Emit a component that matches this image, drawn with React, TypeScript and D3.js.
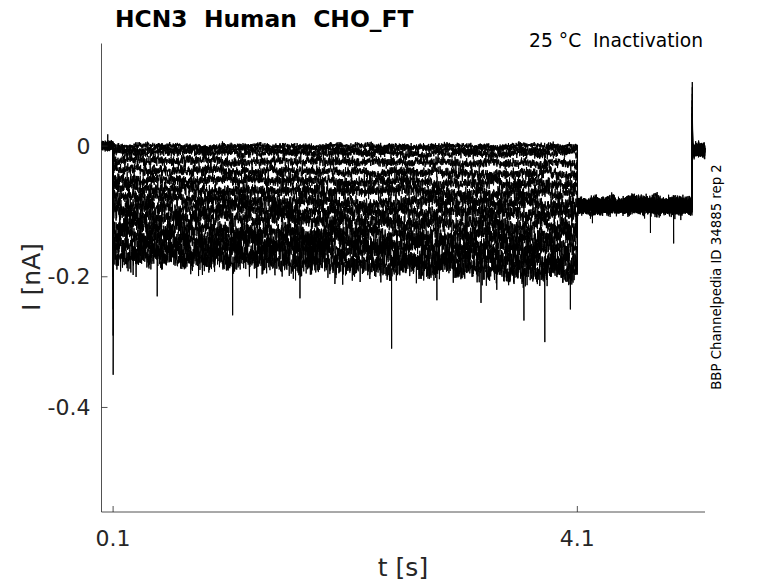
import React, { useMemo } from "react";
import * as d3 from "d3";

// ---- text ----
const title = "HCN3  Human  CHO_FT";
const subtitle = "25 °C  Inactivation";
const sideNote = "BBP Channelpedia ID 34885 rep 2";
const xLabel = "t [s]";
const yLabel = "I [nA]";

// ---- axes ----
const xDomain = [0, 5.2];
const yDomain = [-0.56, 0.157];
const xTicks = [0.1, 4.1];
const xTickLabels = ["0.1", "4.1"];
const yTicks = [0, -0.2, -0.4];
const yTickLabels = ["0", "-0.2", "-0.4"];

// ---- protocol (s) ----
const onsetTime = 0.1;
const stepTime = 4.1;
const endTime = 5.09;

// ---- per-sweep values (nA) ----
const pulseStart = [0.0, -0.004, -0.010, -0.022, -0.036, -0.050, -0.064, -0.079, -0.093, -0.107, -0.123, -0.138, -0.152, -0.166];
const pulseEnd = [0.0, -0.005, -0.012, -0.027, -0.043, -0.058, -0.074, -0.090, -0.105, -0.121, -0.140, -0.158, -0.176, -0.194];
const pulseNoise = [0.0018, 0.0022, 0.0026, 0.003, 0.0033, 0.0036, 0.004, 0.0043, 0.0047, 0.0052, 0.0057, 0.0062, 0.0067, 0.0072];
const tailLevels = [-0.084, -0.086, -0.087, -0.088, -0.089, -0.090, -0.091, -0.092, -0.092, -0.093, -0.094, -0.095, -0.096, -0.097];
const onsetPeaks = [-0.02, -0.04, -0.06, -0.08, -0.10, -0.12, -0.14, -0.16, -0.18, -0.2, -0.22, -0.25, -0.29, -0.35];
const endPeaks = [0.02, 0.03, 0.03, 0.04, 0.04, 0.05, 0.05, 0.06, 0.06, 0.07, 0.07, 0.08, 0.09, 0.098];

// notable spikes: time (s), value (nA), sweep index
const spikeTimes = [0.054, 0.48, 1.13, 1.71, 2.5, 2.89, 3.27, 3.64, 3.82, 4.04, 4.23, 4.73, 4.93];
const spikeValues = [0.018, -0.23, -0.259, -0.233, -0.31, -0.236, -0.24, -0.267, -0.30, -0.25, -0.118, -0.133, -0.149];
const spikeSweeps = [13, 13, 13, 12, 13, 12, 13, 13, 13, 12, 13, 12, 13];

// deterministic texture generator for the recording noise
function mulberry32(a: number) {
  return function () {
    a |= 0;
    a = (a + 0x6d2b79f5) | 0;
    let t = Math.imul(a ^ (a >>> 15), 1 | a);
    t = (t + Math.imul(t ^ (t >>> 7), 61 | t)) ^ t;
    return ((t ^ (t >>> 14)) >>> 0) / 4294967296;
  };
}

function buildSweep(i: number): [number, number][] {
  const rnd = mulberry32(1234 + i * 7919);
  const gauss = () => {
    const u = Math.max(1e-9, rnd());
    const v = rnd();
    return Math.sqrt(-2 * Math.log(u)) * Math.cos(2 * Math.PI * v);
  };
  const pts: [number, number][] = [];
  const n = pulseNoise[i];
  const depth = i / (pulseStart.length - 1);
  let slow = 0;
  let burst = 0;
  // pre-pulse holding
  for (let t = 0.0; t < onsetTime; t += 0.0015) pts.push([t, gauss() * 0.003]);
  pts.push([onsetTime, 0]);
  pts.push([onsetTime + 0.0005, onsetPeaks[i]]);
  // test pulse
  for (let t = onsetTime + 0.003; t < stepTime; t += 0.0015) {
    const f = (t - onsetTime) / (stepTime - onsetTime);
    const base = pulseStart[i] + (pulseEnd[i] - pulseStart[i]) * f;
    slow = slow * 0.97 + gauss() * n * 0.15;
    if (rnd() < 0.012 * depth * depth) burst = -(0.006 + rnd() * 0.02) * depth;
    burst *= 0.6;
    const v = base + slow + burst + gauss() * n * 1.2;
    pts.push([t, v]);
  }
  pts.push([stepTime, pulseEnd[i]]);
  // tail
  slow = 0;
  burst = 0;
  for (let t = stepTime + 0.002; t < endTime; t += 0.0015) {
    slow = slow * 0.95 + gauss() * 0.0008;
    if (rnd() < 0.005) burst = -rnd() * 0.012;
    burst *= 0.6;
    const v = tailLevels[i] + slow + burst + gauss() * 0.0035;
    pts.push([t, v]);
  }
  pts.push([endTime, tailLevels[i]]);
  pts.push([endTime + 0.0005, endPeaks[i]]);
  for (let t = endTime + 0.004; t <= xDomain[1]; t += 0.0015) pts.push([t, -0.006 + gauss() * 0.0045]);
  // notable spikes
  spikeTimes.forEach((st, k) => {
    if (spikeSweeps[k] !== i) return;
    let idx = d3.bisector((p: [number, number]) => p[0]).left(pts, st);
    idx = Math.min(idx, pts.length - 1);
    pts.splice(idx, 0, [st, spikeValues[k]]);
  });
  return pts;
}

const W = 778;
const H = 583;
const margin = { left: 101.5, right: 73, top: 43.5, bottom: 71 };

export default function App() {
  const x = d3.scaleLinear().domain(xDomain).range([margin.left, W - margin.right]);
  const y = d3.scaleLinear().domain(yDomain).range([H - margin.bottom, margin.top]);
  const line = d3
    .line<[number, number]>()
    .x((d) => x(d[0]))
    .y((d) => y(d[1]));
  const paths = useMemo(() => pulseStart.map((_, i) => line(buildSweep(i)) || ""), []);
  const axisColor = "#262626";
  const font = "'DejaVu Sans', sans-serif";
  const x0 = margin.left;
  const yBottom = H - margin.bottom;
  const pre = { whiteSpace: "pre" as const };
  return (
    <svg
      width={W}
      height={H}
      style={{ position: "absolute", left: 0, top: 0, background: "#fff" }}
      fontFamily={font}
    >
      <rect width={W} height={H} fill="#fff" />
      <g fill="none" stroke="#000" strokeWidth={1} strokeLinejoin="round">
        {paths.map((d, i) => (
          <path key={i} d={d} />
        ))}
      </g>
      {/* axes */}
      <g stroke={axisColor} strokeWidth={0.8} fill="none">
        <line x1={x0} x2={x0} y1={margin.top} y2={yBottom} />
        <line x1={x0} x2={W - margin.right} y1={yBottom} y2={yBottom} />
        {yTicks.map((t) => (
          <line key={"yt" + t} x1={x0} x2={x0 + 6} y1={y(t)} y2={y(t)} />
        ))}
        {xTicks.map((t) => (
          <line key={"xt" + t} x1={x(t)} x2={x(t)} y1={yBottom} y2={yBottom - 6} />
        ))}
      </g>
      <g fill={axisColor} fontSize={22}>
        {yTicks.map((t, k) => (
          <text key={"yl" + t} x={x0 - 11} y={y(t)} textAnchor="end" dominantBaseline="central">
            {yTickLabels[k]}
          </text>
        ))}
        {xTicks.map((t, k) => (
          <text key={"xl" + t} x={x(t)} y={yBottom + 34} textAnchor="middle">
            {xTickLabels[k]}
          </text>
        ))}
      </g>
      <text x={403} y={576} textAnchor="middle" fontSize={25} fill={axisColor}>
        {xLabel}
      </text>
      <text
        transform={`translate(40, 277) rotate(-90)`}
        textAnchor="middle"
        fontSize={25}
        fill={axisColor}
      >
        {yLabel}
      </text>
      <text x={115} y={27} fontSize={23.4} fontWeight="bold" fill="#000" style={pre}>
        {title}
      </text>
      <text x={703} y={47} textAnchor="end" fontSize={18.7} fill="#000" style={pre}>
        {subtitle}
      </text>
      <text
        transform={`translate(721, 277) rotate(-90)`}
        textAnchor="middle"
        fontSize={13.3}
        fill="#000"
      >
        {sideNote}
      </text>
    </svg>
  );
}
